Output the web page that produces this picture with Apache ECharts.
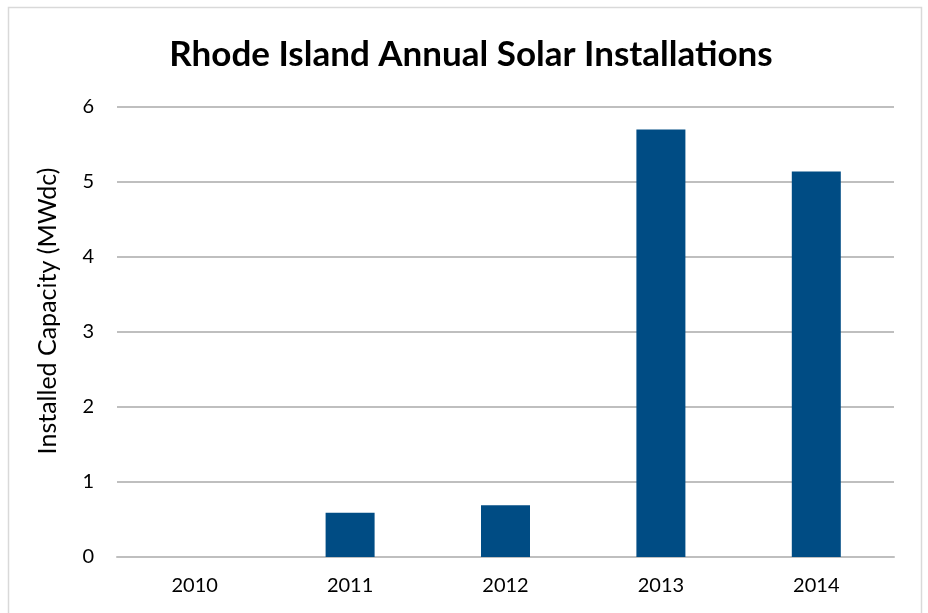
<!DOCTYPE html>
<html><head><meta charset="utf-8">
<script src="https://cdn.jsdelivr.net/npm/echarts@6/dist/echarts.min.js"></script>
<style>html,body{margin:0;padding:0;background:#fff}#c{width:928px;height:613px}</style>
</head><body><div id="c"></div>
<script>
const titleText = 'Rhode Island Annual Solar Installations';
const yAxisName = 'Installed Capacity (MWdc)';
const categories = ['2010', '2011', '2012', '2013', '2014'];
const capacity = [0, 0.59, 0.69, 5.70, 5.14];

const chart = echarts.init(document.getElementById('c'));
const font = 'Lato, "Open Sans", sans-serif';
chart.setOption({
  backgroundColor: '#fff',
  animation: false,
  graphic: [{
    type: 'rect', shape: {x: 8.5, y: 7.5, width: 913, height: 620},
    style: {fill: 'none', stroke: '#d9d9d9', lineWidth: 1.5}, silent: true
  }],
  title: {
    text: titleText, left: 466, top: 32, textAlign: 'center',
    textStyle: {fontFamily: font, fontWeight: 'bold', fontSize: 35, color: '#000'}
  },
  grid: {left: 117, right: 34, top: 107, bottom: 56},
  xAxis: {
    type: 'category', data: categories,
    axisLine: {show: true, lineStyle: {color: '#bfbfbf', width: 2}},
    axisTick: {show: false},
    axisLabel: {fontFamily: font, fontSize: 20, color: '#000', margin: 19}
  },
  yAxis: {
    type: 'value', min: 0, max: 6, interval: 1,
    name: yAxisName, nameLocation: 'middle', nameGap: 57,
    nameTextStyle: {fontFamily: font, fontSize: 25, color: '#000', padding: [0, 0, 0, 42]},
    axisLine: {show: false}, axisTick: {show: false},
    axisLabel: {fontFamily: font, fontSize: 20, color: '#000', margin: 23},
    splitLine: {lineStyle: {color: '#bfbfbf', width: 2}}
  },
  series: [{
    type: 'bar', data: capacity, barWidth: 49,
    itemStyle: {color: '#004c84'}
  }]
});
</script></body></html>
